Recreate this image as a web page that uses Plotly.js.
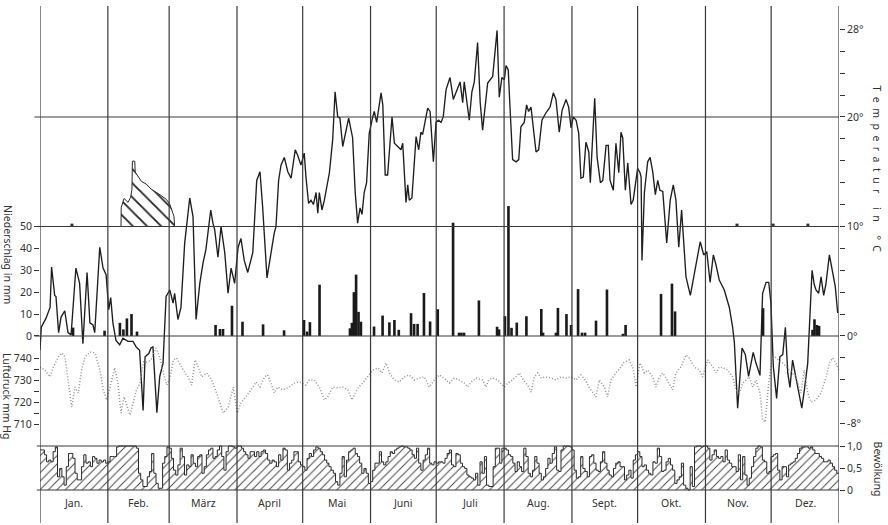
<!DOCTYPE html>
<html>
<head>
<meta charset="utf-8">
<script src="https://cdn.plot.ly/plotly-3.0.1.min.js"></script>
<style>html,body{margin:0;padding:0;background:#fff;}#chart{width:888px;height:525px;}</style>
</head>
<body>
<div id="chart"></div>
<script>
// ---------- DATA ----------
const months = ["Jan.","Feb.","März","April","Mai","Juni","Juli","Aug.","Sept.","Okt.","Nov.","Dez."];
const monthStarts = [0,31,59,90,120,151,181,212,243,273,304,334,365];

// Lufttemperatur (°C), day of year
const tempDays = [0,0.6,2.7,4.6,5.3,6.7,7.3,8.5,9.6,11.3,12.8,14.2,16.4,18.1,19.6,21.5,22.8,24.2,25,27.3,28.8,30.2,
31.4,32.3,33.3,34.7,36.4,37.9,40.2,42.5,43.9,45.5,47.1,48,49.7,50.7,51.6,53.4,54.7,56.2,57.6,59.3,
60.8,61.5,63,64.4,66.1,68.4,69.9,71.3,73,74.5,75.8,78,79,79.8,81.3,82.7,84.4,85.9,87.3,88.9,90.5,
91.8,93.3,94.9,97.2,99,100.5,101.7,103.7,105.2,107,107.8,109,110.1,111.6,113.2,114.7,116.6,117.7,119.2,120.7,
121.5,122.7,123.8,124.9,126.1,126.9,127.6,128.8,129.9,132.2,133.7,134.8,136,137,138.3,139.8,141,142.8,144,145.1,146.2,147.1,148.1,149.2,150.4,
152,152.7,153.8,155.8,156.6,157.7,158.8,160.8,161.9,163.4,164.9,165.7,166.4,167.2,168,168.7,169.9,171.8,173,174,174.8,177.1,178.2,179.7,180.9,
182.1,183.2,184.2,185.5,187.3,188.8,190,191.9,193.1,193.8,196.1,197.3,198.4,199.9,201.1,202.2,204.5,205.7,206.8,208.8,209.8,211,212.1,
212.9,213.9,214.7,215.9,217.5,218.7,219.7,221.2,222.3,223.2,224.3,226.6,227.8,229.3,231.2,233,234.5,235.7,237.2,238.5,240.3,241.5,242.6,
243.6,244.9,246.1,247.1,248.2,249.4,250.7,251.4,252.5,253.4,254.5,256,257.1,258.6,259.6,260.4,261.9,263.1,264.4,265.4,266.2,267.4,268.5,270,271,273,
274.1,274.6,275,276.1,277.6,278.7,279.9,281.1,282.2,283.2,284.5,286.3,287.9,289.3,290.5,291.8,293.1,295.1,297.1,299.7,301.6,303.2,
304.6,306.1,307.6,308.8,310.3,312.6,314.9,316.4,317.2,318.7,320.7,322.2,323.7,325.8,327.1,328.9,330.1,331.7,332.9,333.9,
335,336.5,338,339.3,340.5,341.6,342.6,343.8,345.4,346.4,348,349.2,350.7,352.7,353.7,354.5,355.7,356.8,358,359,360.6,362.1,363.3,364.4];
const tempValues = [-1.3,0.8,1.6,2.6,6.3,3.7,3.6,0.3,1.7,2.3,0.3,0.1,6.2,4.8,-0.7,5.8,1.2,1.0,0.3,8.1,6.2,5.6,
2.4,3.5,1.2,-0.4,-0.8,-0.2,-0.5,-0.5,-1.0,-1.3,-6.8,-1.9,-1.6,-1.1,-1.0,-7.0,-3.7,-2.5,3.6,4.2,
3.0,3.9,1.5,2.6,8.5,12.6,10.9,1.5,4.8,6.7,7.9,11.5,10.3,9.7,7.2,10.0,7.6,3.9,6.2,4.8,8.1,
8.9,6.9,5.8,7.6,14.2,15.0,11.8,5.3,7.2,9.4,10.0,14.2,15.6,16.3,15.0,14.4,17.0,16.5,15.6,16.7,
14.5,12.1,12.4,12.0,13.1,11.2,13.1,11.5,12.4,14.9,17.9,22.3,20.0,19.9,17.3,18.8,19.9,18.1,13.1,10.3,11.7,11.1,13.1,14.0,18.5,
20.0,20.5,19.5,22.2,21.1,14.7,14.7,20.0,17.6,17.3,17.0,17.6,14.5,12.2,13.8,12.4,12.6,18.2,17.0,18.6,18.4,20.8,20.5,15.9,19.5,
19.7,19.5,20.0,22.5,23.6,21.6,22.3,23.2,21.3,23.2,19.7,22.3,23.2,26.8,21.3,18.8,23.1,23.4,23.7,27.9,21.8,23.6,23.4,
24.7,24.3,20.9,16.1,15.9,16.1,19.1,19.5,21.1,20.5,20.9,16.8,17.0,19.7,20.4,20.9,22.2,21.6,18.6,20.6,21.6,20.9,19.0,
20.0,19.7,18.5,14.4,14.5,17.7,16.8,14.0,18.8,21.7,16.3,14.0,14.2,17.4,17.4,14.2,13.3,17.6,14.9,18.6,18.1,13.3,15.8,12.0,12.4,15.3,
14.9,14.5,6.9,13.1,15.9,16.3,15.0,12.9,14.2,13.3,13.2,8.5,12.4,13.8,12.4,8.1,11.5,5.4,3.7,6.7,8.6,7.4,
7.7,4.9,7.4,6.5,5.1,4.2,2.6,0.8,-0.6,-6.6,-1.1,-1.7,-3.7,-1.5,-2.5,-3.6,3.9,4.9,4.9,3.0,
-2.8,-5.7,-1.9,-1.7,0.8,-3.4,-4.7,-2.2,-4.0,-4.9,-6.6,-4.9,-2.5,6.0,4.7,4.2,3.9,5.4,3.7,4.7,7.4,5.8,4.5,2.1];

// Luftdruck (mm Hg)
const pressDays = [0,2.3,4.6,6.1,8.4,9.9,11.4,12.9,14.5,16,17.5,19,20.6,22.8,25.1,27.4,28.9,30.5,
32.8,34.1,35.6,37,38.4,39.9,41.1,42.5,44.1,45.7,47.3,48.9,50.7,53,54.8,56.4,57.9,59.4,
60.9,62.4,64.7,66.2,67.7,69.3,70.8,72.3,73.9,76.2,78.4,80.7,83.7,86,88.3,90.1,
91.8,94.1,96.4,98.7,100.5,102.5,104,105.5,107,108.6,110.9,113.9,116.2,118.5,
121.5,123,125.3,127.6,129.9,131.4,133.7,136,138.3,140.6,142.5,144,145.6,147.4,149.7,
152,154.3,156.2,158.1,159.6,161.9,164.1,166.4,168.7,171,173.3,175.6,177.8,180.1,
182.4,184.6,187,189.3,191.5,193.8,195.4,196.9,199.2,202.2,203.7,205,206.8,209.1,210.6,212.1,
213.7,215.9,219,220.8,222.8,224.3,225.8,227.4,228.9,231.2,233.4,235.7,238,240.3,242.6,
244.9,247.1,249.1,250.7,252.5,254,255.5,257.8,259.3,260.8,263.1,265.4,266.9,269.2,270.8,272.3,274.1,
276.1,277.6,279.9,281.4,282.9,284.5,286,289,290.5,292.8,295.1,296.6,298.9,301.2,302.7,
305,307.6,308.8,310.3,312.2,314.2,316.4,317.9,319.5,321,322.5,324,325.6,327.1,328.9,330.1,331.3,332.7,334.3,
335.8,337.3,339.3,342.3,345.4,347.6,349.1,350.7,352.2,354.5,356.8,359.1,360.6,362.1,363.6,365];
const pressValues = [735.9,734.5,731.4,735.9,740.5,742.3,740.5,730,717.7,726.8,724.1,734.5,740.5,742.7,742.3,734.5,725.5,720.9,
730.9,735.5,728.6,715,722.3,717.7,714.1,719.5,725.5,728.6,738.2,738.2,739.1,744.5,740,733.2,727.7,730.9,
739.1,740,735.9,733.2,731.4,727.7,739.1,735.9,731.4,733.2,730,724.1,715,717.7,726.8,715,
719.5,722.3,725.5,729.1,726.8,731.4,732.3,728.6,724.1,726.8,725.5,726.8,728.6,729.1,
727.7,730,730,726.8,720.9,722.3,726.8,726.4,726.8,725.5,720.9,724.1,726.8,728.6,731.4,
734.5,735.5,733.2,737.7,733.2,730,729.1,731.4,732.3,730,730.9,731.4,726.8,730,
732.3,730.9,728.6,730.9,730,728.6,726.8,729.1,730.9,730,726.8,730,730.9,730,728.6,726.8,
728.6,730,733.2,730,727.7,724.5,731.4,733.2,730.9,731.4,730.9,730,731.4,730.9,731.4,
730,732.3,730,726.8,724.1,722.3,730,726.8,722.3,730,733.2,735.9,738.2,739.1,735.9,726.8,737.7,
733.2,734.5,731.4,726.8,731.4,733.2,730.9,725.5,733.2,735.9,741.4,740,735.9,734.5,731.4,
739.1,735.5,733.2,735.9,735.5,734.5,731.4,725.5,724.1,728.6,730,731.4,726.8,730,724.1,711.8,710.9,726.8,739.1,
740.5,739.1,737.7,734.5,731.4,724.1,734.5,724.1,720,720.9,724.1,731.4,737.7,740,737.7,734.5];

// Niederschlag (mm)
const precipDays = [15.1,29.5,36.5,38.1,39.7,41.8,44.3,80.2,82.2,83.6,87.7,92.5,101.9,111.5,120.6,122,123.3,127.7,
141.6,142.5,143.4,144.4,145.5,146.6,152.6,156.5,159.6,161.9,163.9,169.5,170.9,172.5,175.4,178.2,181.7,
188.7,191.4,192.5,193.7,200.5,208.8,209.7,212.4,214,215.4,217.8,222.2,229,229.8,235.7,236.6,240.5,242.6,
245.8,247.6,249,254,259,266.3,267.5,283.7,288.7,290.1,330.3,352.9,353.8,354.9,355.9];
const precipValues = [3.8,2.4,6,3,8,10,2,5,3.2,3.2,13.8,6.5,5.3,2.6,7.3,2,6.3,23.4,
3.5,6,20,28,11,6.5,4.3,9.3,6.2,7.3,2.8,10.4,5.5,5.5,19.6,6.6,12.2,
51.7,1.5,1.5,1.5,16.2,4.2,3,9,59.3,3.7,6.1,9,12.3,1.5,1.5,12.8,10,5,
21.4,1.5,1.5,7,21.2,1,5,19.2,23.9,11.2,12.7,2.8,7.6,5,4.6];

// Schneedecke (drawn above the 50 mm line, chart units)
const snowDays = [37.0,37.1,38.4,40.2,41.4,42,42.2,43.3,43.5,44.8,46.3,48.6,50.8,53.1,55.4,57.7,59.3,60,61.2,61.5];
const snowDepth = [0,8.7,12.8,11,13.3,16.9,29.8,29.8,24.8,22.9,20.6,19.3,17,15.6,13.8,12.4,10.1,7.8,4.6,0];
const snowMarkDays = [14.6,318.4,334.9,350.8];

// Bewölkung (0..1), daily
const cloud = [
.91,.91,.80,.64,.68,.64,.87,.98,.30,.49,.30,.11,.53,.83,.83,.72,.38,.23,.23,.53,.80,.61,.64,.53,.76,.72,.61,.68,.64,.68,.61,
.64,.76,.76,.76,.98,1,1,1,1,1,1,1,1,.95,.38,.23,.08,.08,.30,.42,.83,.38,.15,.04,.04,.61,.76,.98,
.95,.72,.45,.34,.57,.95,.76,.34,.57,.53,.80,.61,.53,.76,.80,.38,.53,.80,.91,.95,.72,.76,.91,1,.76,.45,.87,1,1,.98,.95,
1,1,.95,.87,.80,.72,.87,.87,.76,.87,.76,.87,.91,.83,.68,.61,.68,.64,.53,.80,.68,.95,.91,.45,.61,.68,.87,.87,.64,.57,
.53,.45,.72,.83,.76,.91,.98,.95,.87,.80,.68,.61,.53,.45,.38,.19,.11,.38,.76,.30,.68,.87,.91,.95,.83,.76,.61,.38,.49,.38,.15,
.19,.45,.61,.61,.87,.64,.57,.64,.76,.87,.83,.91,.95,.98,1,.98,.98,.95,.91,.80,.72,.95,.61,.45,.68,.80,.95,.61,.57,.64,
.61,.64,.64,.61,.72,.83,.91,.57,.53,.83,.80,.61,.53,.49,.34,.30,.27,.23,.38,.11,.64,.38,.76,.11,.08,.08,.53,.95,.95,.61,
.95,.95,.91,.80,.76,.61,.42,.64,.53,.42,.95,.76,.38,.30,.45,.76,.61,.38,.23,.30,.49,.72,.61,.83,.98,.45,.42,.91,1,1,1,
.98,.91,.45,.27,.30,.76,.49,.42,.30,.76,.80,.61,.45,.42,.64,.87,.61,.45,.34,.30,.49,.61,.64,.53,.53,.23,.34,.45,.27,.68,
.80,.87,.76,.53,.57,.45,.38,.34,.64,.61,.95,.76,.42,.45,.64,.72,.57,.45,.15,.23,.30,.61,.11,.04,0,.53,.08,.98,1,1,.98,
1,1,.95,.68,.80,.91,.76,.72,.76,.64,.91,.68,.61,.53,.53,.42,.80,.23,.76,.34,.11,.27,.53,.76,.95,1,.98,.68,.64,.38,
.42,.76,.80,.83,.45,.23,.53,.53,.30,.57,.61,.64,.72,.83,.95,.98,.98,.98,.95,.98,.91,.83,.83,.76,.72,.64,.64,.68,.61,.53,.45,.38];

// axis tick sets
const tempTicks = [-8,-6,-4,-2,0,2,4,6,8,10,12,14,16,18,20,22,24,26,28];
const tempLabeled = {"-8":"-8°","0":"0°","10":"10°","20":"20°","28":"28°"};
const precipTicks = [0,10,20,30,40,50];
const pressTicks = [710,715,720,725,730,735,740];
const pressLabeled = {"710":"710","720":"720","730":"730","740":"740"};
const cloudTicks = [0,0.5,1];
const cloudLabels = ["0","0,5","1,0"];

// ---------- CHART ----------
const FONT = {family:'"Noto Sans", "DejaVu Sans", sans-serif', size:10.5, color:'#333'};
const NB = '\u00A0';
const spaced = (s, gap, wgap) => s.split(' ').map(w => w.split('').join(NB.repeat(gap))).join(NB.repeat(wgap));

const cloudX = cloud.map((v,i)=>i).concat([365]);
const cloudY = cloud.concat([cloud[cloud.length-1]]);

const traces = [
  { // cloud cover, hatched step histogram
    x: cloudX, y: cloudY, yaxis:'y4', type:'scatter', mode:'lines',
    line:{shape:'hv', color:'#2a2a2a', width:1},
    fill:'tozeroy', fillcolor:'rgba(255,255,255,0)',
    fillpattern:{shape:'/', size:6, solidity:0.16, fgcolor:'#444', bgcolor:'rgba(255,255,255,0)'}
  },
  { // snow cover
    x: snowDays, y: snowDepth, yaxis:'y5', type:'scatter', mode:'lines',
    line:{shape:'linear', color:'#2a2a2a', width:1},
    fill:'tozeroy', fillcolor:'rgba(255,255,255,0)',
    fillpattern:{shape:'\\', size:10, solidity:0.18, fgcolor:'#222', bgcolor:'rgba(255,255,255,0)'}
  },
  { // precipitation
    x: precipDays, y: precipValues, yaxis:'y2', type:'bar', width:1.2,
    marker:{color:'#1a1a1a', line:{width:0}}
  },
  { // snow marks on 50 mm line
    x: snowMarkDays, y: snowMarkDays.map(()=>50.6), yaxis:'y2', type:'scatter', mode:'markers',
    marker:{symbol:'square', size:3, color:'#333'}
  },
  { // pressure
    x: pressDays, y: pressValues, yaxis:'y3', type:'scatter', mode:'lines',
    line:{color:'#939393', width:1.5, dash:'1px,2px'}
  },
  { // temperature
    x: tempDays, y: tempValues, yaxis:'y', type:'scatter', mode:'lines',
    line:{color:'#1e1e1e', width:1.35}
  }
];

const shapes = [];
monthStarts.forEach(d => shapes.push({type:'line', xref:'x', yref:'paper', x0:d, x1:d, y0:0, y1:1,
  line:{color:'#3a3a3a', width:1.2}}));
[20,10,0].forEach(t => shapes.push({type:'line', xref:'paper', yref:'y', x0:-0.007, x1:1, y0:t, y1:t,
  line:{color:'#3a3a3a', width:1.1}}));
[0,1].forEach(c => shapes.push({type:'line', xref:'paper', yref:'y4', x0:-0.004, x1:1, y0:c, y1:c,
  line:{color:'#3a3a3a', width:1.1}}));

const annotations = months.map((m,i)=>({
  x:(monthStarts[i]+monthStarts[i+1])/2, y:0.039, xref:'x', yref:'paper',
  text:m, showarrow:false, font:FONT, xanchor:'center', yanchor:'middle'
}));
annotations.push(
  {x:-0.04, y:0.52, xref:'paper', yref:'paper', xanchor:'center', yanchor:'middle', text:'Niederschlag in mm', textangle:90, showarrow:false, font:FONT},
  {x:-0.042, y:0.245, xref:'paper', yref:'paper', xanchor:'center', yanchor:'middle', text:'Luftdruck mm Hg', textangle:90, showarrow:false, font:FONT},
  {x:1.048, y:0.685, xref:'paper', yref:'paper', xanchor:'center', yanchor:'middle', text:spaced('Temperatur in °C',2,5), textangle:90, showarrow:false, font:FONT},
  {x:1.049, y:0.105, xref:'paper', yref:'paper', xanchor:'center', yanchor:'middle', text:'Bewölkung', textangle:90, showarrow:false, font:FONT}
);

const axCommon = {showgrid:false, zeroline:false, showline:false, ticks:'outside', ticklen:5,
  tickwidth:1, tickcolor:'#333', tickfont:FONT, fixedrange:true};

const layout = {
  width:888, height:525,
  margin:{l:40, r:49, t:6, b:2},
  paper_bgcolor:'#fff', plot_bgcolor:'#fff',
  showlegend:false, hovermode:false,
  xaxis:{range:[0,365], visible:false, fixedrange:true},
  yaxis:Object.assign({}, axCommon, {range:[-17.08,30.13], side:'right',
    tickvals:tempTicks, ticktext:tempTicks.map(t=>tempLabeled[String(t)]||'')}),
  yaxis2:Object.assign({}, axCommon, {range:[-85.4,150.65], side:'left', overlaying:'y',
    tickvals:precipTicks, ticktext:precipTicks.map(String)}),
  yaxis3:Object.assign({}, axCommon, {range:[665,900], side:'left', overlaying:'y',
    tickvals:pressTicks, ticktext:pressTicks.map(t=>pressLabeled[String(t)]||'')}),
  yaxis4:Object.assign({}, axCommon, {range:[-0.75,11.0], side:'right', overlaying:'y',
    tickvals:cloudTicks, ticktext:cloudLabels}),
  yaxis5:{range:[-135.4,100.65], overlaying:'y', visible:false, fixedrange:true},
  shapes:shapes, annotations:annotations
};

Plotly.newPlot('chart', traces, layout, {staticPlot:true, displayModeBar:false});
</script>
</body>
</html>
